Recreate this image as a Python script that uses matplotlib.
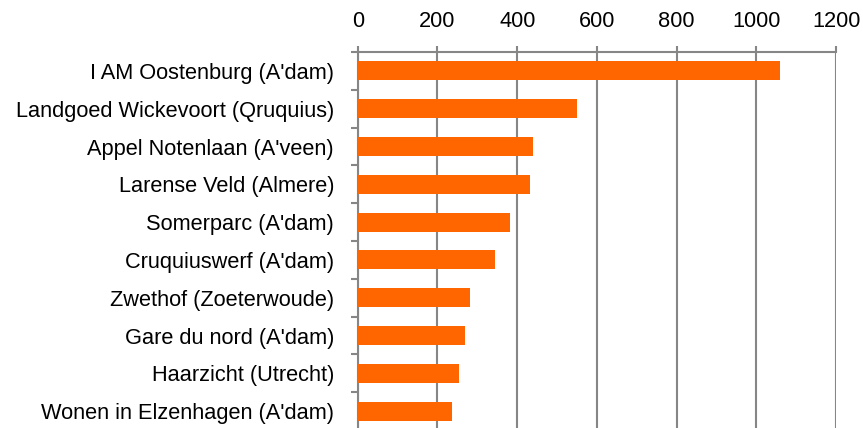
import numpy as np
import matplotlib
matplotlib.use("Agg")
import matplotlib.pyplot as plt

plt.rcParams["font.family"] = ["Liberation Sans", "DejaVu Sans"]

# data
projecten = ["I AM Oostenburg (A'dam)", "Landgoed Wickevoort (Qruquius)",
             "Appel Notenlaan (A'veen)", "Larense Veld (Almere)",
             "Somerparc (A'dam)", "Cruquiuswerf (A'dam)",
             "Zwethof (Zoeterwoude)", "Gare du nord (A'dam)",
             "Haarzicht (Utrecht)", "Wonen in Elzenhagen (A'dam)"]
aantal = [1058, 550, 439, 431, 383, 344, 281, 270, 253, 236]
x_ticks = [0, 200, 400, 600, 800, 1000, 1200]

grijs = "#868686"

fig = plt.figure(figsize=(8.63, 4.28), dpi=100)
ax = fig.add_axes([0.4145, -0.0047, 0.5545, 0.8832])

y = np.arange(len(projecten))
ax.barh(y, aantal, height=0.5, color="#FF6600", zorder=3)

ax.set_xlim(0, 1200)
ax.set_ylim(len(projecten) - 0.5, -0.5)
ax.set_xticks(x_ticks)
ax.xaxis.tick_top()
ax.tick_params(axis="x", direction="out", length=4.5, width=1.5, color=grijs,
               pad=10, labelsize=15.7)
ax.grid(axis="x", color=grijs, linewidth=1.5, zorder=0)

ax.set_yticks(y)
ax.set_yticklabels(projecten)
ax.tick_params(axis="y", which="major", length=0, pad=17, labelsize=15.7)
ax.set_yticks(np.arange(len(projecten) + 1) - 0.5, minor=True)
ax.tick_params(axis="y", which="minor", length=5, width=1.5, color=grijs)

for s in ["right", "bottom"]:
    ax.spines[s].set_visible(False)
for s in ["top", "left"]:
    ax.spines[s].set_color(grijs)
    ax.spines[s].set_linewidth(1.5)

fig.savefig("out.png", dpi=100)
